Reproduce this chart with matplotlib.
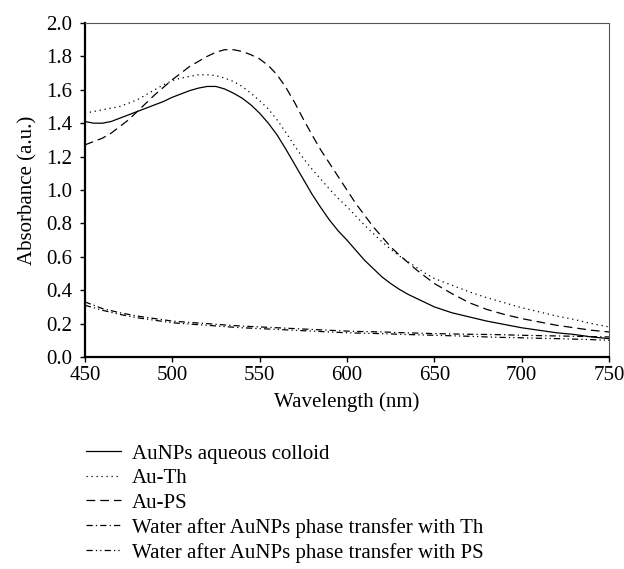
"""UV-vis absorbance spectra of AuNPs and phase transfer samples"""
import matplotlib
matplotlib.use('Agg')
import matplotlib.pyplot as plt

plt.rcParams['font.family'] = ['Liberation Serif', 'DejaVu Serif']
plt.rcParams['font.size'] = 15

# wavelength grid of the three colloid spectra (nm)
wavelength = [450, 455, 460, 465, 470, 475, 480, 485, 490, 495, 500, 505,
              510, 515, 520, 525, 530, 535, 540, 545, 550, 555, 560, 565,
              570, 575, 580, 585, 590, 595, 600, 605, 610, 615, 620, 625,
              630, 635, 640, 645, 650, 660, 670, 680, 690, 700, 710, 720,
              730, 740, 750]

aunps_colloid = [1.41, 1.40, 1.40, 1.41, 1.43, 1.45, 1.47, 1.49, 1.51, 1.53,
                 1.555, 1.575, 1.595, 1.61, 1.62, 1.62, 1.605, 1.58, 1.55,
                 1.51, 1.46, 1.40, 1.33, 1.245, 1.155, 1.065, 0.975, 0.895,
                 0.82, 0.755, 0.70, 0.64, 0.58, 0.53, 0.48, 0.44, 0.405,
                 0.375, 0.35, 0.325, 0.30, 0.265, 0.24, 0.215, 0.195, 0.175,
                 0.16, 0.145, 0.135, 0.12, 0.11]
au_th = [1.46, 1.47, 1.48, 1.49, 1.50, 1.52, 1.54, 1.57, 1.60, 1.63, 1.655,
         1.67, 1.68, 1.69, 1.69, 1.685, 1.67, 1.65, 1.62, 1.58, 1.535, 1.485,
         1.42, 1.345, 1.265, 1.19, 1.125, 1.065, 1.005, 0.95, 0.90, 0.845,
         0.79, 0.74, 0.69, 0.645, 0.605, 0.57, 0.535, 0.50, 0.47, 0.43, 0.39,
         0.355, 0.325, 0.295, 0.27, 0.245, 0.225, 0.20, 0.18]
au_ps = [1.27, 1.29, 1.31, 1.34, 1.38, 1.42, 1.47, 1.52, 1.57, 1.615, 1.66,
         1.70, 1.74, 1.77, 1.80, 1.825, 1.84, 1.84, 1.83, 1.81, 1.785, 1.745,
         1.69, 1.615, 1.525, 1.425, 1.33, 1.24, 1.16, 1.08, 1.00, 0.92, 0.85,
         0.78, 0.72, 0.66, 0.61, 0.565, 0.52, 0.48, 0.44, 0.38, 0.325, 0.285,
         0.255, 0.23, 0.21, 0.19, 0.175, 0.16, 0.15]

# wavelength grid of the two water phases (nm)
wavelength_water = [450, 460, 470, 480, 490, 500, 510, 520, 530, 540, 550,
                    560, 570, 580, 590, 600, 610, 620, 630, 640, 650, 660,
                    670, 680, 690, 700, 710, 720, 730, 740, 750]
water_th = [0.33, 0.29, 0.265, 0.245, 0.23, 0.215, 0.207, 0.20, 0.192, 0.185,
            0.18, 0.175, 0.17, 0.165, 0.16, 0.155, 0.152, 0.15, 0.146, 0.143,
            0.14, 0.138, 0.136, 0.135, 0.133, 0.13, 0.128, 0.126, 0.124,
            0.122, 0.12]
water_ps = [0.31, 0.28, 0.255, 0.235, 0.22, 0.205, 0.197, 0.19, 0.182, 0.175,
            0.17, 0.165, 0.16, 0.155, 0.15, 0.145, 0.142, 0.14, 0.136, 0.133,
            0.13, 0.127, 0.124, 0.12, 0.117, 0.115, 0.112, 0.11, 0.107, 0.104,
            0.10]

labels = ['AuNPs aqueous colloid', 'Au-Th', 'Au-PS',
          'Water after AuNPs phase transfer with Th',
          'Water after AuNPs phase transfer with PS']

fig = plt.figure(figsize=(6.24, 5.69), dpi=100)
ax = fig.add_axes([0.136, 0.3726, 0.840, 0.5870])

lw = 0.9
ax.plot(wavelength, aunps_colloid, color='black', lw=lw, label=labels[0])
ax.plot(wavelength, au_th, color='black', lw=lw, linestyle=(0, (1, 3)),
        label=labels[1])
ax.plot(wavelength, au_ps, color='black', lw=lw, linestyle=(0, (7, 4)),
        label=labels[2])
ax.plot(wavelength_water, water_th, color='black', lw=lw,
        linestyle=(0, (5, 2.5, 1, 2.5)), label=labels[3])
ax.plot(wavelength_water, water_ps, color='black', lw=lw,
        linestyle=(0, (5, 2.5, 1, 2.5, 1, 2.5)), label=labels[4])

ax.set_xlim(450, 750)
ax.set_ylim(0, 2.0)
ax.set_xticks([450, 500, 550, 600, 650, 700, 750])
ax.set_yticks([0.0, 0.2, 0.4, 0.6, 0.8, 1.0, 1.2, 1.4, 1.6, 1.8, 2.0])
ax.set_yticklabels(['%.1f' % v for v in ax.get_yticks()])
ax.tick_params(direction='out', length=3.6, width=1.0)
ax.tick_params(axis='x', pad=3)
ax.tick_params(axis='y', pad=5.5)
ax.tick_params(top=False, right=False)

ax.spines['left'].set_linewidth(1.6)
ax.spines['bottom'].set_linewidth(1.6)
ax.spines['top'].set_linewidth(0.8)
ax.spines['right'].set_linewidth(0.8)
ax.spines['top'].set_color('#555555')
ax.spines['right'].set_color('#555555')

ax.set_xlabel('Wavelength (nm)', labelpad=5)
ax.set_ylabel('Absorbance (a.u.)', labelpad=6)

handles, _ = ax.get_legend_handles_labels()
fig.legend(handles, labels, loc='upper left',
           bbox_to_anchor=(86 / 624, 1 - 444 / 569), frameon=False,
           borderpad=0, borderaxespad=0, handlelength=1.68,
           handletextpad=0.53, labelspacing=0.24)

fig.savefig('out.png', dpi=100)
